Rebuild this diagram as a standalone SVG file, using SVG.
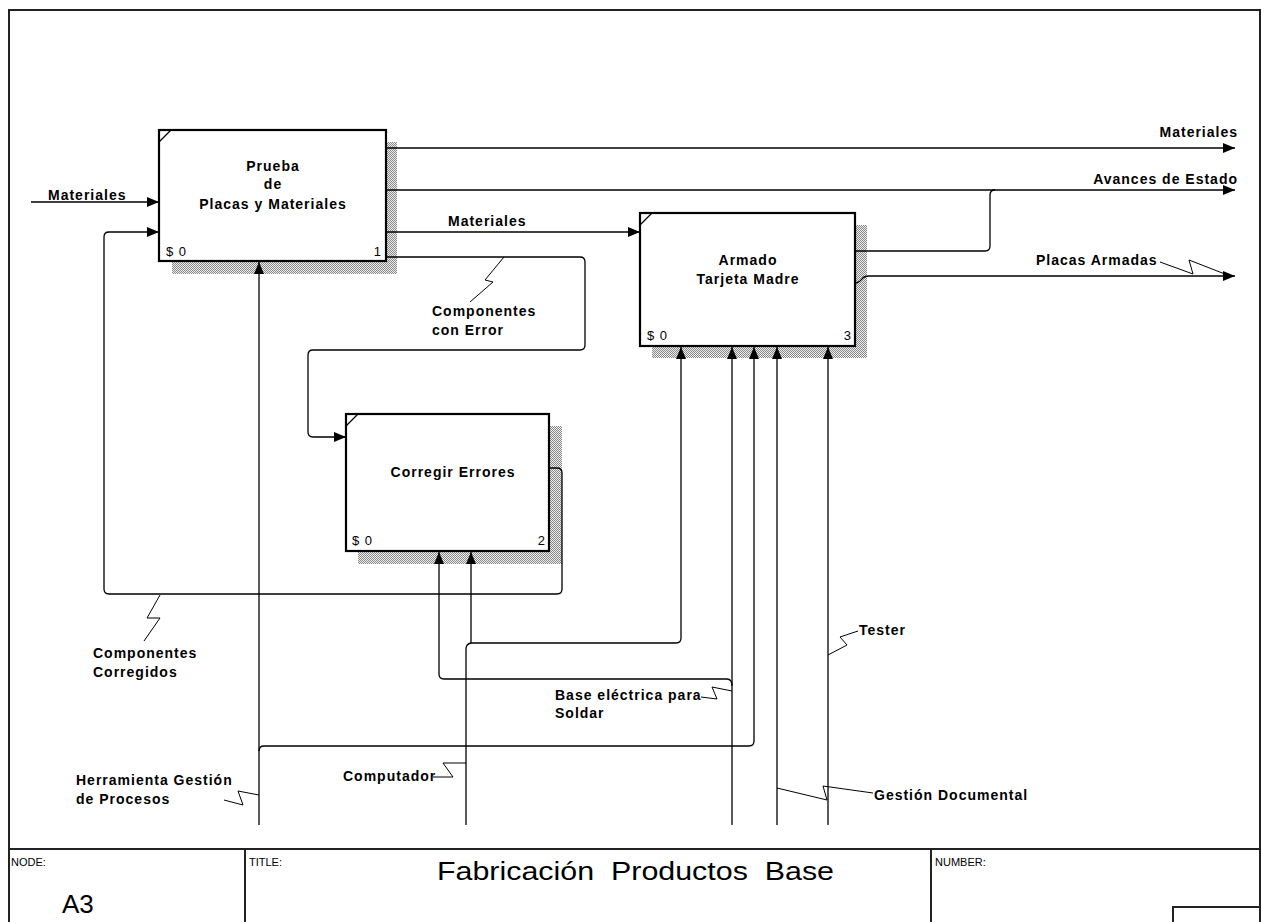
<svg xmlns="http://www.w3.org/2000/svg" width="1261" height="922" viewBox="0 0 1261 922">
<style>
.frame{fill:none;stroke:#222;stroke-width:2}
.box{fill:#fff;stroke:#000;stroke-width:2.2}
.shadow{fill:url(#hatch)}
.tick{stroke:#000;stroke-width:1.2;fill:none}
.c{fill:none;stroke:#000;stroke-width:1.3}
.sq{fill:none;stroke:#000;stroke-width:1}
.lbl{font-family:"Liberation Sans",Arial,sans-serif;font-weight:bold;font-size:14px;letter-spacing:1px;fill:#000}
.nt{font-family:"Liberation Sans",Arial,sans-serif;font-weight:bold;font-size:14px;letter-spacing:1px;fill:#000;text-anchor:middle}
.num{font-family:"Liberation Sans",Arial,sans-serif;font-size:13px;letter-spacing:1px;fill:#000}
.tb{font-family:"Liberation Sans",Arial,sans-serif;font-size:11px;fill:#000}
.title{font-family:"Liberation Sans",Arial,sans-serif;font-size:26px;fill:#000}
</style>
<defs>
<pattern id="hatch" width="2" height="2" patternUnits="userSpaceOnUse">
<rect width="2" height="2" fill="#ececec"/>
<rect width="1" height="1" fill="#8a8a8a"/>
<rect x="1" y="1" width="1" height="1" fill="#8a8a8a"/>
</pattern>
<marker id="ah" markerUnits="userSpaceOnUse" markerWidth="13" markerHeight="11" refX="12" refY="5" orient="auto">
<path d="M0,0 L12,5 L0,10 z" fill="#000"/>
</marker>
</defs>
<rect width="1261" height="922" fill="#fff"/>
<g id="frame">
<path class="frame" d="M9,923 V10 H1260 V923"/>
<path class="frame" d="M9,849 H1260 M245,849 V923 M931,849 V923"/>
<path class="frame" d="M1173,923 V907 H1260"/>
<text class="tb" x="11" y="866">NODE:</text>
<text class="tb" x="249" y="866">TITLE:</text>
<text class="tb" x="935" y="866">NUMBER:</text>
<text class="title" x="62" y="913" font-size="20">A3</text>
<text class="title" x="437" y="880" xml:space="preserve" textLength="397" lengthAdjust="spacingAndGlyphs">Fabricación  Productos  Base</text>
</g>
<g id="node1">
<rect class="shadow" x="172" y="142" width="225" height="132"/>
<rect class="box" x="159" y="130" width="227" height="131"/>
<path class="tick" d="M159,142 L171,130"/>
<text class="nt" x="273" y="171">Prueba</text>
<text class="nt" x="273" y="189">de</text>
<text class="nt" x="273" y="209">Placas y Materiales</text>
<text class="num" x="166" y="256">$ 0</text>
<text class="num" x="382" y="256" text-anchor="end">1</text>
</g>
<g id="node2">
<rect class="shadow" x="358" y="426" width="204" height="138"/>
<rect class="box" x="346" y="414" width="203" height="137"/>
<path class="tick" d="M346,426 L358,414"/>
<text class="nt" x="453" y="477">Corregir Errores</text>
<text class="num" x="352" y="545">$ 0</text>
<text class="num" x="546" y="545" text-anchor="end">2</text>
</g>
<g id="node3">
<rect class="shadow" x="652" y="225" width="215" height="133"/>
<rect class="box" x="640" y="213" width="215" height="133"/>
<path class="tick" d="M640,225 L652,213"/>
<text class="nt" x="748" y="265">Armado</text>
<text class="nt" x="748" y="284">Tarjeta Madre</text>
<text class="num" x="647" y="340">$ 0</text>
<text class="num" x="852" y="340" text-anchor="end">3</text>
</g>
<g id="connectors">
<path class="c" d="M31,202 H159" marker-end="url(#ah)"/>
<path class="c" d="M387,148 H1235" marker-end="url(#ah)"/>
<path class="c" d="M387,190 H1235" marker-end="url(#ah)"/>
<path class="c" d="M856,251 H985 Q990,251 990,246 V195 Q990,190 995,190"/>
<path class="c" d="M387,232 H640" marker-end="url(#ah)"/>
<path class="c" d="M387,257 H580 Q585,257 585,262 V345 Q585,350 580,350 H313 Q308,350 308,355 V432 Q308,437 313,437 H346" marker-end="url(#ah)"/>
<path class="c" d="M550,468 H557 Q562,468 562,473 V589 Q562,594 557,594 H109 Q104,594 104,589 V237 Q104,232 109,232 H159" marker-end="url(#ah)"/>
<path class="c" d="M856,283 Q860,282 862,279 Q864,276 869,276 H1235" marker-end="url(#ah)"/>
<path class="c" d="M259,825 V262" marker-end="url(#ah)"/>
<path class="c" d="M259,751 Q259,746 264,746 H749 Q754,746 754,741 V347" marker-end="url(#ah)"/>
<path class="c" d="M466,825 V649 Q466,644 471,643 H676 Q681,643 681,638 V347" marker-end="url(#ah)"/>
<path class="c" d="M471,643 V552" marker-end="url(#ah)"/>
<path class="c" d="M732,825 V347" marker-end="url(#ah)"/>
<path class="c" d="M732,686 Q732,679 727,679 H444 Q439,679 439,674 V552" marker-end="url(#ah)"/>
<path class="c" d="M777,825 V347" marker-end="url(#ah)"/>
<path class="c" d="M828,825 V347" marker-end="url(#ah)"/>
<polyline class="sq" points="504,257 485,280 493,282 470,302"/>
<polyline class="sq" points="160,595 147,618 160,618 144,641"/>
<polyline class="sq" points="1160,262 1193,274 1189,260 1230,276"/>
<polyline class="sq" points="701,697 717,699 712,687 732,691"/>
<polyline class="sq" points="224,800 243,805 238,791 259,795"/>
<polyline class="sq" points="433,777 453,777 443,763 466,763"/>
<polyline class="sq" points="828,655 847,645 840,637 858,631"/>
<polyline class="sq" points="777,788 827,800 823,786 873,793"/>
<text class="lbl" x="48" y="200">Materiales</text>
<text class="lbl" x="1238" y="137" text-anchor="end">Materiales</text>
<text class="lbl" x="1238" y="184" text-anchor="end">Avances de Estado</text>
<text class="lbl" x="448" y="226">Materiales</text>
<text class="lbl" x="432" y="316">Componentes</text>
<text class="lbl" x="432" y="335">con Error</text>
<text class="lbl" x="1036" y="265">Placas Armadas</text>
<text class="lbl" x="93" y="658">Componentes</text>
<text class="lbl" x="93" y="677">Corregidos</text>
<text class="lbl" x="555" y="700">Base eléctrica para</text>
<text class="lbl" x="555" y="718">Soldar</text>
<text class="lbl" x="76" y="785">Herramienta Gestión</text>
<text class="lbl" x="76" y="804">de Procesos</text>
<text class="lbl" x="343" y="781">Computador</text>
<text class="lbl" x="859" y="635">Tester</text>
<text class="lbl" x="874" y="800">Gestión Documental</text>
</g>
</svg>
